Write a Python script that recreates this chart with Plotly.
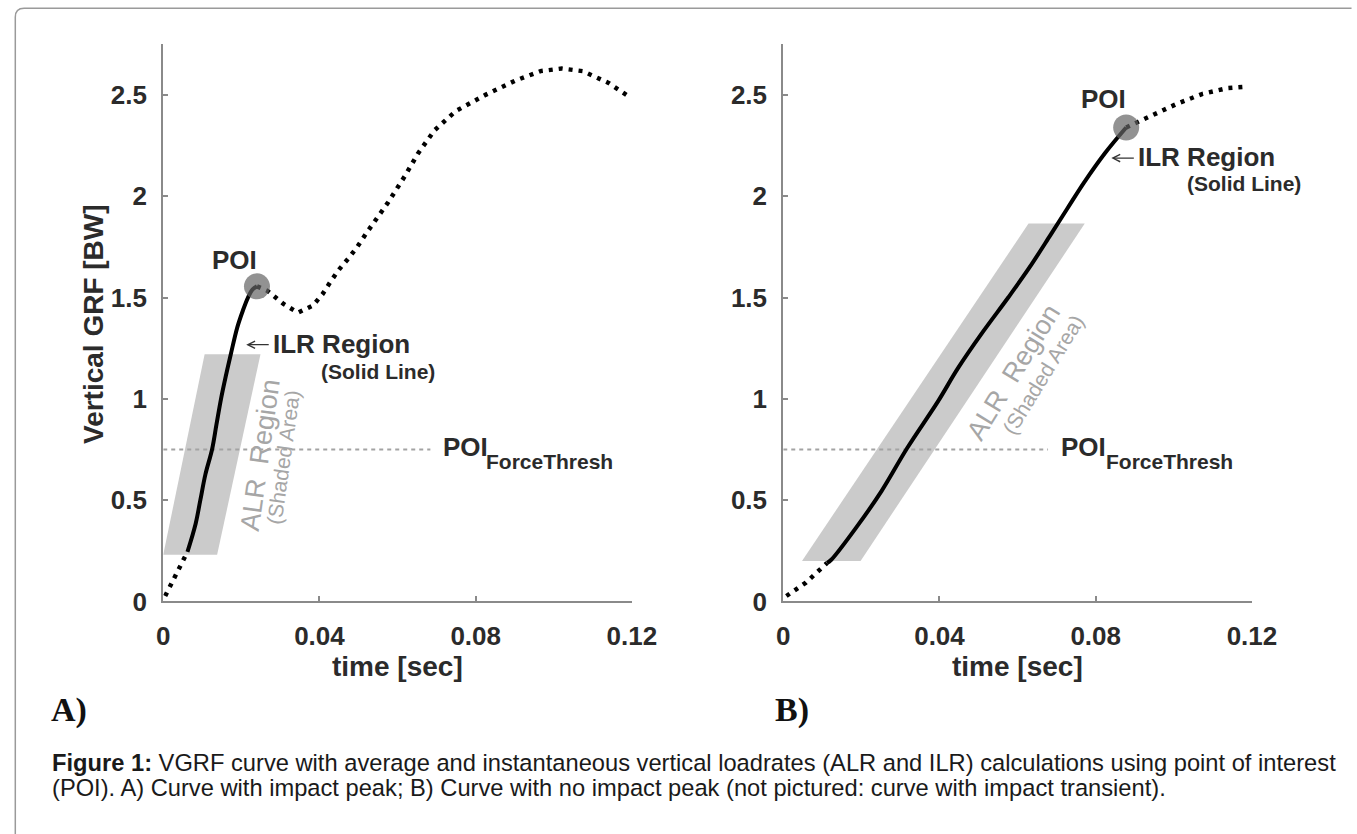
import plotly.graph_objects as go

W, H = 1357, 834

# ---------------- data ----------------
# Panel A: curve with impact peak
a_pre_t = [0.0005, 0.003, 0.0062]
a_pre_v = [0.027, 0.12, 0.245]
a_ilr_t = [0.0062, 0.0083, 0.0095, 0.0108, 0.0125, 0.0136, 0.0148, 0.016, 0.0173,
           0.019, 0.0204, 0.0217, 0.0229, 0.024]
a_ilr_v = [0.245, 0.384, 0.5, 0.627, 0.75, 0.87, 1.0, 1.11, 1.22,
           1.355, 1.436, 1.5, 1.54, 1.555]
a_post_t = [0.024, 0.0267, 0.0308, 0.0345, 0.0383, 0.0408, 0.0429, 0.045, 0.0475,
            0.0495, 0.0521, 0.0576, 0.0619, 0.0652, 0.0695, 0.0749, 0.0825, 0.0901,
            0.0966, 0.102, 0.1074, 0.1139, 0.1194]
a_post_v = [1.555, 1.533, 1.468, 1.425, 1.46, 1.517, 1.58, 1.638, 1.695,
            1.745, 1.82, 1.97, 2.10, 2.21, 2.326, 2.42, 2.50, 2.57,
            2.617, 2.63, 2.617, 2.56, 2.49]
a_band_t = [0.0, 0.0138, 0.0249, 0.0106]
a_band_v = [0.23, 0.23, 1.22, 1.22]
a_thresh_t = [0.0, 0.0684]

# Panel B: curve with no impact peak
b_pre_t = [0.0008, 0.0058, 0.0112]
b_pre_v = [0.027, 0.093, 0.19]
b_ilr_t = [0.0112, 0.0123, 0.0188, 0.0252, 0.0317, 0.0397, 0.0447, 0.0511, 0.0576,
           0.063, 0.0684, 0.0727, 0.077, 0.0824, 0.0878]
b_ilr_v = [0.19, 0.206, 0.368, 0.546, 0.756, 0.99, 1.15, 1.33, 1.50,
           1.647, 1.808, 1.938, 2.067, 2.213, 2.339]
b_post_t = [0.0878, 0.0932, 0.1007, 0.1072, 0.1137, 0.1186]
b_post_v = [2.339, 2.39, 2.455, 2.504, 2.533, 2.54]
b_band_t = [0.0048, 0.0198, 0.0772, 0.0628]
b_band_v = [0.2, 0.2, 1.865, 1.865]
b_thresh_t = [0.0, 0.0678]

thresh_v = 0.75

x_tickvals = [0, 0.04, 0.08, 0.12]
x_ticktext = ["0", "0.04", "0.08", "0.12"]
y_tickvals = [0, 0.5, 1, 1.5, 2, 2.5]
y_ticktext = ["0", "0.5", "1", "1.5", "2", "2.5"]

x_title = "time [sec]"
y_title = "Vertical GRF [BW]"
caption_1 = "<b>Figure 1:</b> VGRF curve with average and instantaneous vertical loadrates (ALR and ILR) calculations using point of interest"
caption_2 = "(POI). A) Curve with impact peak; B) Curve with no impact peak (not pictured: curve with impact transient)."

# ---------------- styling helpers ----------------
F = "Liberation Sans, Arial, Helvetica, sans-serif"
SERIF = "Liberation Serif, Times New Roman, serif"
AX = "#8a8a8a"
TXT = "#2b2b2b"
GRAYTXT = "#a6a6a6"


def px(x):
    return x / W


def py(y):
    return 1 - y / H


fig = go.Figure()


def add_panel(xa, ya, band_t, band_v, th_t, pre_t, pre_v, ilr_t, ilr_v, post_t, post_v):
    fig.add_trace(go.Scatter(x=band_t + band_t[:1], y=band_v + band_v[:1], mode="lines",
                             fill="toself", fillcolor="#cbcbcb", line=dict(width=0),
                             xaxis=xa, yaxis=ya, hoverinfo="skip"))
    fig.add_trace(go.Scatter(x=th_t, y=[thresh_v] * len(th_t), mode="lines",
                             line=dict(color="#a3a3a3", width=2, dash="4px,4px"),
                             xaxis=xa, yaxis=ya))
    dotted = dict(color="black", width=4.5, dash="4px,6px")
    fig.add_trace(go.Scatter(x=pre_t, y=pre_v, mode="lines", line=dotted, xaxis=xa, yaxis=ya))
    fig.add_trace(go.Scatter(x=post_t, y=post_v, mode="lines", line=dotted, xaxis=xa, yaxis=ya))
    fig.add_trace(go.Scatter(x=ilr_t, y=ilr_v, mode="lines", line_shape="spline",
                             line=dict(color="black", width=4), xaxis=xa, yaxis=ya))
    fig.add_trace(go.Scatter(x=[ilr_t[-1]], y=[ilr_v[-1]], mode="markers",
                             marker=dict(size=26, color="rgba(100,100,100,0.7)", line=dict(width=0)),
                             xaxis=xa, yaxis=ya))


add_panel("x", "y", a_band_t, a_band_v, a_thresh_t, a_pre_t, a_pre_v,
          a_ilr_t, a_ilr_v, a_post_t, a_post_v)
add_panel("x2", "y2", b_band_t, b_band_v, b_thresh_t, b_pre_t, b_pre_v,
          b_ilr_t, b_ilr_v, b_post_t, b_post_v)

common_x = dict(range=[0, 0.12], showline=True, linecolor=AX, linewidth=2, ticks="inside",
                ticklen=5, tickwidth=1.5, tickcolor=AX, showgrid=False, zeroline=False,
                tickvals=x_tickvals, ticktext=x_ticktext, ticklabelstandoff=10,
                tickfont=dict(family=F, size=26, color=TXT, weight="bold"))
common_y = dict(range=[0, 2.75], showline=True, linecolor=AX, linewidth=2, ticks="inside",
                ticklen=5, tickwidth=1.5, tickcolor=AX, showgrid=False, zeroline=False,
                tickvals=y_tickvals, ticktext=y_ticktext, ticklabelstandoff=9,
                tickfont=dict(family=F, size=26, color=TXT, weight="bold"))

ydom = [py(612.5), py(45)]
fig.update_layout(
    width=W, height=H, margin=dict(l=0, r=0, t=0, b=0),
    paper_bgcolor="white", plot_bgcolor="white", showlegend=False,
    xaxis=dict(domain=[px(160), px(640)], anchor="y", **common_x),
    yaxis=dict(domain=ydom, anchor="x", **common_y),
    xaxis2=dict(domain=[px(795), px(1275)], anchor="y2", **common_x),
    yaxis2=dict(domain=ydom, anchor="x2", **common_y),
)

ann = []


def note(text, x, y, size, color=TXT, bold=True, xanchor="center", angle=0, family=F):
    ann.append(dict(text=text, x=px(x), y=py(y), xref="paper", yref="paper",
                    xanchor=xanchor, yanchor="middle", showarrow=False, textangle=angle,
                    font=dict(family=family, size=size, color=color,
                              weight="bold" if bold else "normal")))


def left_arrow(x_head, x_tail, y):
    ann.append(dict(text="", x=px(x_head), y=py(y), xref="paper", yref="paper",
                    ax=x_tail - x_head, ay=0, showarrow=True, arrowhead=5,
                    arrowsize=1.1, arrowwidth=1.3, arrowcolor="#333", standoff=0,
                    startstandoff=0))


# axis titles
note(y_title, 88, 330, 28, angle=-90)
note(x_title, 400, 679, 28)
note(x_title, 1035, 679, 28)
# panel labels
note("A)", 64, 723, 34, color="#111", family=SERIF)
note("B)", 804, 723, 34, color="#111", family=SERIF)
# panel A labels
note("POI", 233, 265, 26)
left_arrow(245, 269, 351)
note("ILR Region", 270, 350, 26, xanchor="left")
note("(Solid Line)", 380, 378, 21)
note("ALR  Region", 259, 463, 27, color=GRAYTXT, bold=False, angle=-82)
note("(Shaded Area)", 283, 466, 21, color=GRAYTXT, bold=False, angle=-82)
note("POI", 444, 455, 26, xanchor="left")
note("ForceThresh", 489, 470, 21, xanchor="left")
# panel B labels
note("POI", 1123, 101, 26)
left_arrow(1131, 1155, 161)
note("ILR Region", 1156, 160, 26, xanchor="left")
note("(Solid Line)", 1267, 187, 21)
note("ALR  Region", 1031, 379, 27, color=GRAYTXT, bold=False, angle=-58.5)
note("(Shaded Area)", 1061, 381, 21, color=GRAYTXT, bold=False, angle=-58.5)
note("POI", 1077, 455, 26, xanchor="left")
note("ForceThresh", 1123, 470, 21, xanchor="left")
# caption
note(caption_1, 44, 777, 23.7, color="#1a1a1a", bold=False, xanchor="left")
note(caption_2, 44, 802, 23.7, color="#1a1a1a", bold=False, xanchor="left")

fig.update_layout(annotations=ann)

# outer rounded frame (top and left edges visible)
r = 9
x0, y0 = 8.5, 8.5
path = (f"M {px(x0)},{py(H + 20)} L {px(x0)},{py(y0 + r)} "
        f"Q {px(x0)},{py(y0)} {px(x0 + r)},{py(y0)} L {px(W + 20)},{py(y0)}")
fig.add_shape(type="path", path=path, xref="paper", yref="paper",
              line=dict(color="#9a9a9a", width=1.5))

fig.write_html("out.html")
